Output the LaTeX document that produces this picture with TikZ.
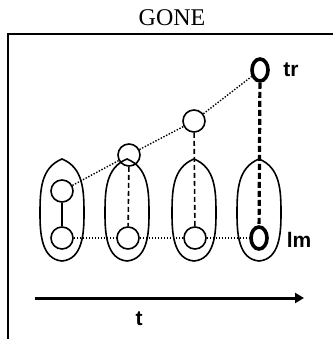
\documentclass[tikz,border=0pt]{standalone}
\usepackage{fontspec}
\setmainfont{Liberation Serif}
\newfontfamily\lblfont{Liberation Sans}
\usetikzlibrary{arrows.meta,shapes.geometric}
\tikzset{
  x=1pt, y=1pt,
  ring/.style={circle, draw, line width=1.6pt, minimum size=22pt, inner sep=0pt},
  boldring/.style={ellipse, draw, line width=3.6pt, minimum width=16pt, minimum height=22pt, inner sep=0pt},
  lensline/.style={line width=1.6pt},
  dotline/.style={line width=1.4pt, dash pattern=on 1.4pt off 1.6pt},
  dashline/.style={line width=1.6pt, dash pattern=on 5pt off 3pt},
  thickdash/.style={line width=3.2pt, dash pattern=on 6pt off 3pt},
  lbl/.style={font=\lblfont\bfseries\fontsize{21}{21}\selectfont, inner sep=0pt},
}
\begin{document}
\begin{tikzpicture}
\useasboundingbox (0,0) rectangle (333,-339);
% frame
\draw[line width=1.5pt] (8,-339) -- (8,-34) -- (333,-34);
\node[font=\fontsize{24}{24}\selectfont, inner sep=0pt] (title) at (172,-18) {GONE};
% lenses
\foreach \cx in {62,127,194,259}{
  \draw[lensline] (\cx,-159) to[out=-22,in=90] (\cx+22,-214)
     to[out=-90,in=5] (\cx,-261) to[out=175,in=-90] (\cx-22,-214)
     to[out=90,in=202] cycle;
}
% circles
\node[ring] (u1) at (62,-191) {};
\node[ring] (d1) at (62,-238) {};
\node[ring] (u2) at (129,-155) {};
\node[ring] (d2) at (128,-238) {};
\node[ring] (u3) at (194,-121) {};
\node[ring] (d3) at (195,-238) {};
\node[boldring] (tr) at (260,-70) {};
\node[boldring] (lm) at (259,-238) {};
% connectors
\draw[lensline] (u1) -- (d1);
\draw[dashline] (u2) -- (d2);
\draw[dashline] (u3) -- (d3);
\draw[thickdash] (tr) -- (lm);
\draw[dotline] (u1) -- (u2) -- (u3) -- (tr);
\draw[dotline] (d1) -- (d2) -- (d3) -- (lm);
% labels
\node[lbl] (trl) at (291,-70) {tr};
\node[lbl] (lml) at (299,-240) {lm};
% time axis
\coordinate (a0) at (35,-298);
\coordinate (a1) at (304,-298);
\draw[line width=3pt, -{Triangle[length=9pt,width=10pt]}] (a0) -- (a1);
\node[lbl] (t) at (139,-319) {t};
\end{tikzpicture}
\end{document}
